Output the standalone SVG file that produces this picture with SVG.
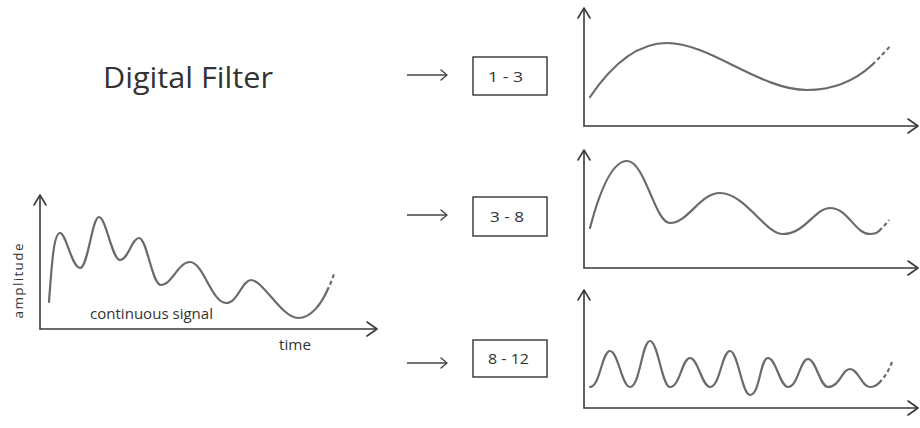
<svg xmlns="http://www.w3.org/2000/svg" width="920" height="428" viewBox="0 0 920 428">
<defs>
<style>
.axis{fill:none;stroke:#3a3a3a;stroke-width:1.6}
.head{fill:none;stroke:#3a3a3a;stroke-width:1.6;stroke-linecap:round;stroke-linejoin:round}
.sig{fill:none;stroke:#6a6a6a;stroke-width:2.2;stroke-linecap:round}
.dash{fill:none;stroke:#6a6a6a;stroke-width:2.2;stroke-dasharray:4 3}
.box{fill:#fff;stroke:#333;stroke-width:1.4}
.lbl{font-family:"Open Sans","Noto Sans",sans-serif;fill:#333}
.conn{fill:none;stroke:#444;stroke-width:1.4}
</style>
<marker id="chev" markerWidth="12" markerHeight="12" refX="9" refY="6" orient="auto" markerUnits="userSpaceOnUse">
<path d="M3,1 L9,6 L3,11" fill="none" stroke="#444" stroke-width="1.4" stroke-linecap="round" stroke-linejoin="round"/>
</marker>
</defs>
<rect width="920" height="428" fill="#fff"/>

<g id="title">
<text class="lbl" x="103" y="88" font-size="30" textLength="170" lengthAdjust="spacingAndGlyphs">Digital Filter</text>
</g>

<g id="input-signal">
<path class="axis" d="M40,196 V329 H376"/>
<path class="head" d="M34,205 L40,195 L46,205"/>
<path class="head" d="M367,322 L377,329 L367,336"/>
<path class="sig" d="M49,302 C52,260 54,233 60,233 C66,233 72,268 80,268 C88,268 92,217 99,217 C106,217 112,260 120,260 C128,260 132,238 139,238 C147,238 152,285 161,285 C172,285 178,262 190,262 C203,262 212,303 226,303 C238,303 242,280 251,280 C263,280 282,318 298,318 C312,318 322,302 327,291"/>
<path class="dash" d="M327,291 C330,285 332,280 334,274"/>
<text class="lbl" font-size="13.5" transform="translate(23,281) rotate(-90)" text-anchor="middle" textLength="75" lengthAdjust="spacing">amplitude</text>
<text class="lbl" x="90" y="319" font-size="14.5" textLength="123" lengthAdjust="spacingAndGlyphs">continuous signal</text>
<text class="lbl" x="279" y="350" font-size="15" textLength="32" lengthAdjust="spacingAndGlyphs">time</text>
</g>

<g id="connectors">
<line class="conn" x1="407" y1="75" x2="447" y2="75" marker-end="url(#chev)"/>
<line class="conn" x1="407" y1="215" x2="447" y2="215" marker-end="url(#chev)"/>
<line class="conn" x1="407" y1="363" x2="447" y2="363" marker-end="url(#chev)"/>
</g>

<g id="filter-1-3">
<rect class="box" x="473" y="57" width="74" height="38"/>
<text class="lbl" x="488" y="82" font-size="15" textLength="35" lengthAdjust="spacingAndGlyphs">1 - 3</text>
</g>
<g id="filter-3-8">
<rect class="box" x="473" y="197" width="74" height="39"/>
<text class="lbl" x="490" y="222" font-size="15" textLength="34" lengthAdjust="spacingAndGlyphs">3 - 8</text>
</g>
<g id="filter-8-12">
<rect class="box" x="473" y="340" width="74" height="37"/>
<text class="lbl" x="488" y="364" font-size="15" textLength="41" lengthAdjust="spacingAndGlyphs">8 - 12</text>
</g>

<g id="output-1-3">
<path class="axis" d="M584,9 V126 H917"/>
<path class="head" d="M578,18 L584,8 L590,18"/>
<path class="head" d="M908,119 L918,126 L908,133"/>
<path class="sig" d="M590,97 C615,60 640,43 667,43 C710,43 760,90 807,90 C840,90 860,76 872,65"/>
<path class="dash" d="M872,65 C880,57 886,51 891,45"/>
</g>

<g id="output-3-8">
<path class="axis" d="M584,151 V268 H917"/>
<path class="head" d="M578,160 L584,150 L590,160"/>
<path class="head" d="M908,261 L918,268 L908,275"/>
<path class="sig" d="M590,228 C600,190 612,161 627,161 C645,161 655,223 670,223 C688,223 700,193 720,193 C745,193 765,234 783,234 C805,234 815,208 830,208 C848,208 855,234 870,234 C874,234 877,233 879,231"/>
<path class="dash" d="M879,231 C883,227 886,224 889,220"/>
</g>

<g id="output-8-12">
<path class="axis" d="M584,291 V408 H917"/>
<path class="head" d="M578,300 L584,290 L590,300"/>
<path class="head" d="M908,401 L918,408 L908,415"/>
<path class="sig" d="M590,387 C600,387 602,351 610,351 C618,351 622,387 630,387 C640,387 642,341 650,341 C658,341 662,387 670,387 C680,387 682,358 690,358 C698,358 702,387 710,387 C720,387 722,351 730,351 C738,351 742,395 750,395 C760,395 760,358 768,358 C776,358 780,387 788,387 C798,387 800,359 808,359 C816,359 820,387 828,387 C840,387 842,369 850,369 C858,369 862,387 870,387 C874,387 876,386 879,383"/>
<path class="dash" d="M879,383 C885,377 889,370 892,362"/>
</g>
</svg>
